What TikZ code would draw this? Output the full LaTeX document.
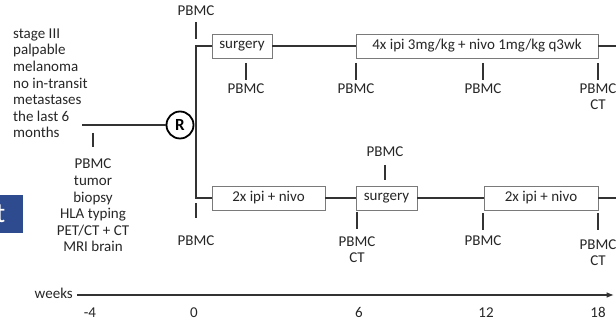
\documentclass[tikz,border=0pt]{standalone}
\usepackage{fontspec}
\setmainfont{Carlito}
\usetikzlibrary{arrows.meta, positioning, calc}
\definecolor{mylinegray}{HTML}{333333}
\definecolor{myboxgray}{HTML}{7A7A7A}
\definecolor{mytext}{HTML}{262626}
\definecolor{myslideblue}{HTML}{2E4B8F}
\tikzset{
phasebox/.style={
draw=myboxgray,
fill=white,
line width=0.8pt,
minimum height=24pt,
inner sep=0pt,
font=\fontsize{15}{16.6}\selectfont,
text=mytext
},
lbl/.style={
font=\fontsize{15}{16.6}\selectfont,
text=mytext,
align=center,
inner sep=0pt
},
flow/.style={
line width=1.5pt,
draw=mylinegray
},
tickmark/.style={
line width=1.5pt,
draw=mylinegray
},
axis/.style={
-{Latex[length=2.6mm,width=2mm]},
line width=1.2pt,
draw=mylinegray
},
randnode/.style={
circle,
draw=black,
fill=white,
line width=1.8pt,
minimum size=27pt,
inner sep=0pt,
font=\fontsize{17}{18}\selectfont\bfseries
}
}

\begin{document}
\begin{tikzpicture}[x=1pt, y=1pt]

\useasboundingbox (0,0) rectangle (616,326);

% slide edge
\fill[myslideblue] (0,93) rectangle (23,131);
\node[anchor=base east, inner sep=0pt, text=white,
  font=\fontsize{28}{30}\selectfont] (slidet) at (5.5,103) {t};

% inclusion criteria (base = last line)
\node[lbl, align=left, anchor=base west] (criteria) at (13,188)
  {stage III\\palpable\\melanoma\\no in-transit\\metastases\\the last 6\\months};

% screening
\coordinate (entry) at (82,201);
\node[randnode] (rand) at (180,201) {R};
\draw[flow] (entry) -- (rand.west);
\coordinate (scrtop) at (93,193);
\coordinate (scrbot) at (93,179);
\draw[tickmark] (scrtop) -- (scrbot);
\node[lbl, anchor=base] (screen) at (93,74)
  {PBMC\\tumor\\biopsy\\HLA typing\\PET/CT + CT\\MRI brain};

% arm A
\node[phasebox, minimum width=60pt] (surgA) at (242,280) {surgery};
\node[phasebox, minimum width=242pt] (comboA) at (477,280)
  {4x ipi 3mg/kg + nivo 1mg/kg q3wk};
\coordinate (armA) at (196,280);
\coordinate (endA) at (618,280);

% arm B
\node[phasebox, minimum width=113pt] (indB) at (268.5,128) {2x ipi + nivo};
\node[phasebox, minimum width=61pt] (surgB) at (386.5,128) {surgery};
\node[phasebox, minimum width=114pt] (adjB) at (541,128) {2x ipi + nivo};
\coordinate (armB) at (196,128);
\coordinate (endB) at (618,128);

\draw[flow] (surgA.west) -- (armA) -- (armB) -- (indB.west);
\draw[flow] (surgA.east) -- (comboA.west);
\draw[flow] (comboA.east) -- (endA);
\draw[flow] (indB.east) -- (surgB.west);
\draw[flow] (surgB.east) -- (adjB.west);
\draw[flow] (adjB.east) -- (endB);

% sampling points
\foreach \x/\ya/\yb/\yl/\txt/\n in {
  196/304/287/310/PBMC/a,
  246/263/246/232/PBMC/b,
  356/263/246/232/PBMC/c,
  483/263/246/232/PBMC/d,
  598/263/246/216/{PBMC\\CT}/e,
  385/161/146/169/PBMC/f,
  196/123/108/80/PBMC/g,
  357/114/97/63/{PBMC\\CT}/h,
  483/113/96/80/PBMC/i,
  598/113/96/60/{PBMC\\CT}/j} {
  \coordinate (st\n) at (\x,\ya);
  \coordinate (sb\n) at (\x,\yb);
  \draw[tickmark] (st\n) -- (sb\n);
  \node[lbl, anchor=base] (pbmc\n) at (\x,\yl) {\txt};
}

% time axis
\node[lbl, anchor=base east] (weeks) at (73,27) {weeks};
\coordinate (axend) at (614,31);
\draw[axis] ([xshift=4pt]weeks.east |- axend) -- (axend);
\foreach \x/\w in {90/-4, 194/0, 359/6, 486/12, 598/18}
  \node[lbl, anchor=base] (wk\w) at (\x,8) {\w};

\end{tikzpicture}
\end{document}
